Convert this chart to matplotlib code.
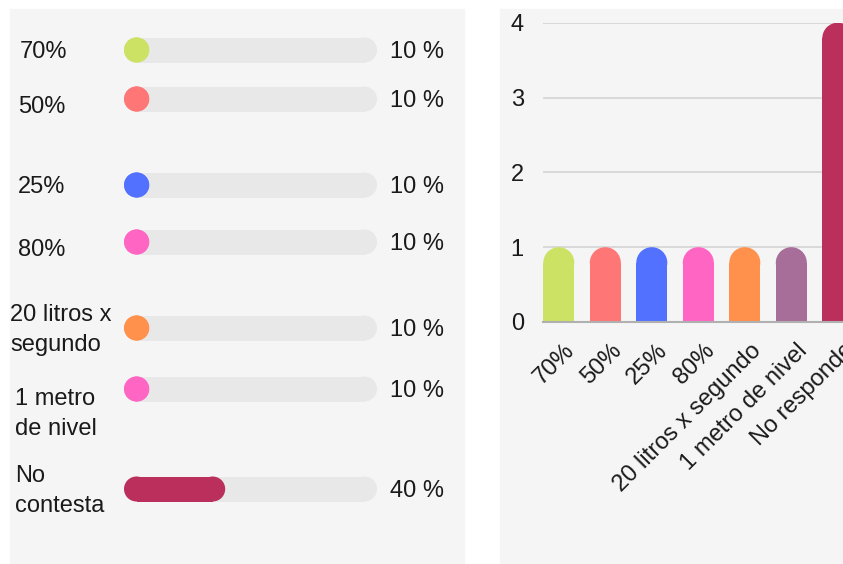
import matplotlib
matplotlib.use("Agg")
import matplotlib.pyplot as plt
from matplotlib.patches import Rectangle, Ellipse
from matplotlib import transforms
import numpy as np

# ---------------- data ----------------
left_labels = ["70%", "50%", "25%", "80%", "20 litros x\nsegundo", "1 metro\nde nivel", "No\ncontesta"]
left_pct = [10, 10, 10, 10, 10, 10, 40]
left_colors = ["#cbe265", "#ff7676", "#5271ff", "#ff66c4", "#ff914d", "#ff66c4", "#bb2f5c"]

right_cats = ["70%", "50%", "25%", "80%", "20 litros x segundo", "1 metro de nivel", "No responde"]
right_counts = [1, 1, 1, 1, 1, 1, 4]
right_colors = ["#cbe265", "#ff7676", "#5271ff", "#ff66c4", "#ff914d", "#a66e98", "#bb2f5c"]
y_ticks = [0, 1, 2, 3, 4]

# ---------------- layout (pixels) ----------------
W, H = 843, 564
DPI = 100
row_y = [50, 99, 185, 242, 328, 389, 489]          # track centres
label_y = [52, 107, 187, 250, 330, 414, 491]       # label centres
label_x = [20, 18, 18, 18, 10, 15, 15]
value_x = 390
value_dy = 2
track_x0, track_x1 = 124, 377
track_h = 25

plt.rcParams["font.family"] = ["Liberation Sans", "DejaVu Sans"]
FS = 17
TXT = "#1a1a1a"

fig = plt.figure(figsize=(W / DPI, H / DPI), dpi=DPI)
fig.patch.set_facecolor("white")

# panels
fig.patches.append(Rectangle((10 / W, 0), (464 - 10) / W, (H - 9) / H,
                             transform=fig.transFigure, color="#f5f5f5", zorder=-5))
fig.patches.append(Rectangle((500 / W, 0), (W - 500) / W, (H - 9) / H,
                             transform=fig.transFigure, color="#f5f5f5", zorder=-5))

# ---------------- left panel ----------------
axl = fig.add_axes([track_x0 / W, 0, (track_x1 - track_x0) / W, 1])
axl.set_xlim(0, 100)
axl.set_ylim(H, 0)
axl.axis("off")
axl.patch.set_visible(False)

px_per_unit = (track_x1 - track_x0) / 100.0
cap = (track_h / 2) / px_per_unit   # half height expressed in x-data units


def pill(ax, y, start, end, color, z):
    """rounded bar from start to end (x data) centred at y"""
    ax.barh(y, max(end - start - 2 * cap, 0), height=track_h, left=start + cap,
            color=color, lw=0, zorder=z)
    for cx in (start + cap, end - cap):
        ax.add_patch(Ellipse((cx, y), 2 * cap, track_h, facecolor=color,
                             lw=0, zorder=z))


for y, p, c in zip(row_y, left_pct, left_colors):
    pill(axl, y, 0, 100, "#e8e8e8", 1)
    pill(axl, y, 0, p, c, 2)

lab_tr = transforms.blended_transform_factory(fig.transFigure, axl.transData)
for lbl, ly, lx in zip(left_labels, label_y, label_x):
    axl.text(lx / W, ly, lbl, transform=lab_tr, ha="left", va="center",
             fontsize=FS, color=TXT, linespacing=1.5, clip_on=False)
for y, p in zip(row_y, left_pct):
    axl.text(value_x / W, y + value_dy, f"{p} %", transform=lab_tr, ha="left",
             va="center", fontsize=FS, color=TXT, clip_on=False)

# ---------------- right panel ----------------
ax_left_px, ax_right_px = 543.3, 843
y0_px, y4_px = 322, 22.7
axr = fig.add_axes([ax_left_px / W, (H - y0_px) / H,
                    (ax_right_px - ax_left_px) / W, (y0_px - y4_px) / H])
axr.patch.set_visible(False)
bw = 0.667
slot_px = 46.5
axr.set_xlim(-bw / 2, -bw / 2 + (ax_right_px - ax_left_px) / slot_px)
axr.set_ylim(0, 4)

x = np.arange(len(right_cats))
px_per_y = (y0_px - y4_px) / 4.0
r = (bw / 2 * slot_px) / px_per_y
for xi, v, c in zip(x, right_counts, right_colors):
    axr.bar(xi, v - r, width=bw, color=c, lw=0, zorder=3)
    axr.add_patch(Ellipse((xi, v - r), bw, 2 * r, facecolor=c, lw=0, zorder=3))

axr.set_yticks(y_ticks)
axr.grid(axis="y", color="#d6d6d6", lw=1.3, zorder=0)
axr.set_axisbelow(True)
for s in ["top", "right", "left"]:
    axr.spines[s].set_visible(False)
axr.spines["bottom"].set_color("#b0b0b0")
axr.spines["bottom"].set_linewidth(1.5)
axr.spines["bottom"].set_zorder(4)
axr.tick_params(axis="both", length=0, labelsize=FS, colors=TXT)
axr.tick_params(axis="y", pad=14)
axr.set_xticks(x)
axr.set_xticklabels(right_cats, rotation=45, ha="right", va="top",
                    rotation_mode="anchor")
axr.tick_params(axis="x", pad=6)
off = transforms.ScaledTranslation(5 / DPI, -9 / DPI, fig.dpi_scale_trans)
for t in axr.get_xticklabels():
    t.set_transform(t.get_transform() + off)

fig.savefig("out.png", dpi=DPI)
